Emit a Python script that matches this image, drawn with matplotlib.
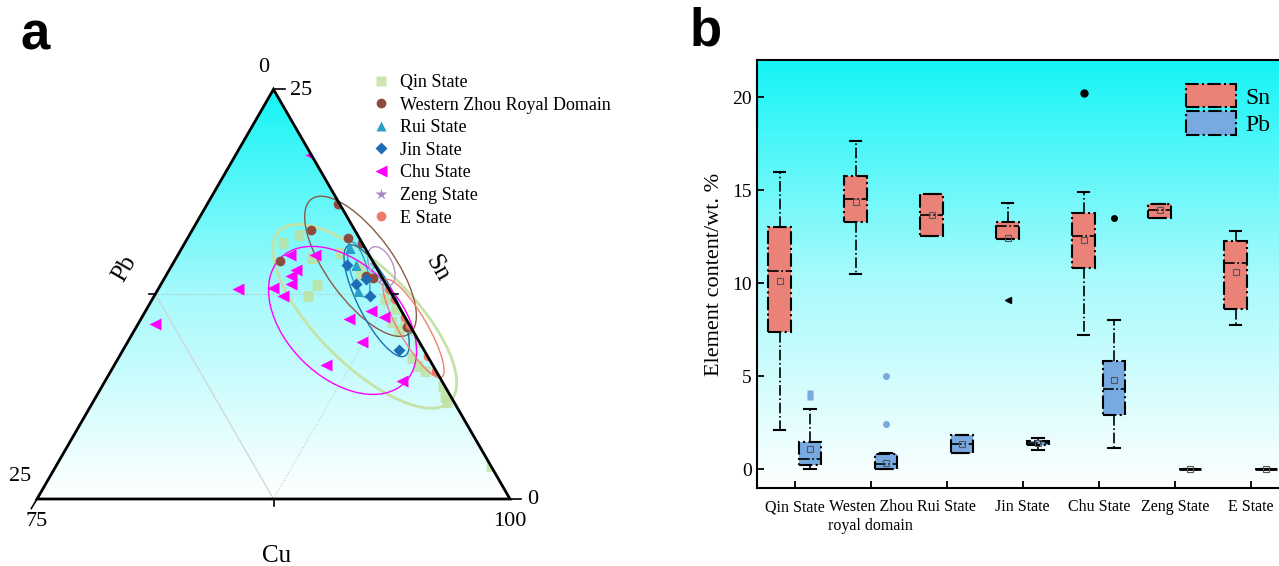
import numpy as np
import matplotlib.pyplot as plt
from matplotlib.patches import Polygon, Ellipse, Patch
from matplotlib.lines import Line2D
from matplotlib.colors import LinearSegmentedColormap

plt.rcParams['font.family'] = ['Liberation Serif', 'DejaVu Serif']

# ---------------- panel a: ternary Cu-Sn-Pb (wt.%) ----------------
qin_sn = [16.1, 15.6, 14.7, 13.05, 12.4, 15.0, 14.2, 13.7, 12.2, 10.8, 11.6,
          10.3, 10.8, 10.3, 8.6, 8.1, 7.8, 9.6, 6.9, 6.25, 5.9, 2.0]
qin_pb = [3.1, 4.2, 3.1, 3.7, 4.5, 1.5, 0.85, 1.1, 0.5, 0.85, 0.2,
          0.7, 0.13, 0.0, 0.9, 0.8, 0.6, 0.0, 0.1, 0.3, 0.36, 0.0]
wz_sn = [18.0, 16.4, 15.9, 15.6, 14.5, 13.6, 13.5, 10.5]
wz_pb = [0.1, 2.3, 0.6, 0.0, 4.9, 0.8, 0.5, 0.2]
rui_sn = [15.3, 14.3, 12.7]
rui_pb = [0.8, 1.0, 1.7]
jin_sn = [14.3, 13.1, 13.4, 12.4, 9.1]
jin_pb = [1.45, 1.6, 0.9, 1.2, 1.3]
chu_sn = [21.0, 14.9, 14.9, 14.0, 13.6, 13.1, 12.8, 12.9, 12.4, 10.7, 11.5,
          11.0, 11.1, 9.6, 8.2, 7.2]
chu_pb = [0.0, 4.2, 2.86, 4.3, 4.8, 5.0, 8.0, 6.1, 5.8, 13.4, 1.6,
          3.0, 1.1, 3.0, 5.6, 2.1]
zeng_sn = [14.3, 13.5]
zeng_pb = [0.0, 0.0]
e_sn = [12.8, 12.2, 11.1, 10.6, 8.7, 7.8]
e_pb = [0.0, 0.0, 0.0, 0.0, 0.0, 0.0]

# group ellipses: centre (Sn, Pb), semi-axes (wt.%), tilt
ell_sn = [11.15, 14.2, 14.0, 12.1, 10.9, 14.2, 10.4]
ell_pb = [2.1, 0.8, 1.0, 1.0, 3.4, -0.3, -0.1]
ell_major = [6.38, 4.4, 1.52, 3.28, 4.65, 1.11, 2.97]
ell_minor = [2.55, 1.76, 0.45, 0.98, 3.0, 0.61, 0.74]
ell_angle = [-45, -54, -74.5, -63, -45, -65, -60]

# ---------------- panel b: box plots ----------------
groups = ['Qin State', 'Westen Zhou\nroyal domain', 'Rui State', 'Jin State',
          'Chu State', 'Zeng State', 'E State']
sn_whislo = [2.09, 10.5, 12.52, 12.38, 7.21, 13.5, 7.76]
sn_q1 = [7.37, 13.27, 12.52, 12.38, 10.82, 13.5, 8.62]
sn_med = [10.64, 14.53, 13.69, 13.1, 12.56, 13.92, 11.09]
sn_q3 = [13.02, 15.78, 14.81, 13.31, 13.77, 14.28, 12.25]
sn_whishi = [16.0, 17.67, 14.81, 14.29, 14.92, 14.28, 12.81]
sn_mean = [10.14, 14.35, 13.69, 12.43, 12.34, 13.92, 10.61]
sn_out = [[], [], [], [9.12], [20.25], [], []]

pb_whislo = [0.0, 0.0, 0.89, 1.02, 1.13, 0.0, 0.0]
pb_q1 = [0.23, 0.0, 0.89, 1.29, 2.92, 0.0, 0.0]
pb_med = [0.57, 0.27, 1.38, 1.4, 4.33, 0.0, 0.0]
pb_q3 = [1.48, 0.8, 1.84, 1.52, 5.81, 0.0, 0.0]
pb_whishi = [3.22, 0.89, 1.84, 1.7, 8.01, 0.0, 0.0]
pb_mean = [1.07, 0.36, 1.38, 1.43, 4.79, 0.0, 0.0]
pb_out = [[3.9, 4.1], [2.42, 5.0], [], [], [13.5], [], []]

cyan_cmap = LinearSegmentedColormap.from_list(
    'cy', [(0, '#ffffff'), (0.5, '#a6fafc'), (1, '#14f4f6')])

fig = plt.figure(figsize=(12.79, 5.66), dpi=100)

# ternary axes: 1 data unit = 1 wt.%, triangle side = 25
S = 473 / 25.0
W, H = 1279.0, 566.0
ax = fig.add_axes([0, 0, 0.5, 1])
ax.set_xlim(-37 / S, (0.5 * W - 37) / S)
ax.set_ylim(-(H - 499) / S, 499 / S)
ax.axis('off')

h3 = np.sqrt(3) / 2


def tern(sn, pb):
    sn = np.asarray(sn, float)
    pb = np.asarray(pb, float)
    return 25 - pb - 0.5 * sn, sn * h3


tri_xy = np.array([[0, 0], [25, 0], [12.5, 25 * h3]])
tri = Polygon(tri_xy, closed=True, facecolor='none', edgecolor='none')
ax.add_patch(tri)
grad = np.linspace(0, 1, 256).reshape(-1, 1)
im = ax.imshow(grad, extent=[0, 25, 0, 25 * h3], origin='lower', cmap=cyan_cmap,
               aspect='auto', zorder=0)
im.set_clip_path(tri)

# grid lines through the midpoints
x1, y1 = tern([12.5, 12.5], [12.5, 0])
ax.plot(x1, y1, ls=':', color='#b8b8b8', lw=0.8, zorder=1)
x2, y2 = tern([12.5, 0], [12.5, 12.5])
ax.plot(x2, y2, ls='-', color='#d0d0d0', lw=0.8, zorder=1)
x3, y3 = tern([0, 12.5], [12.5, 0])
ax.plot(x3, y3, ls=':', color='#c8c8c8', lw=0.8, zorder=1)

series = [
    ('Qin State', qin_sn, qin_pb, 's', '#bfe09c', 6.5, 0.8),
    ('Western Zhou Royal Domain', wz_sn, wz_pb, 'o', '#8c4b3c', 7, 1),
    ('Rui State', rui_sn, rui_pb, '^', '#2aa0c8', 7, 1),
    ('Jin State', jin_sn, jin_pb, 'D', '#1c6db5', 6, 1),
    ('Chu State', chu_sn, chu_pb, '<', '#ff00ff', 8.5, 1),
    ('Zeng State', zeng_sn, zeng_pb, '*', '#a884c2', 9, 1),
    ('E State', e_sn, e_pb, 'o', '#f07868', 7, 1),
]
ell_colors = ['#c6e2a6', '#8b5a48', '#2fa3cf', '#1f6eb5', '#ff00ff', '#b393c9', '#f08070']
ell_lw = [2.0, 1.0, 1.0, 1.0, 1.0, 1.0, 1.0]

handles = []
for k, (name, sn, pb, mk, col, ms, al) in enumerate(series):
    x, y = tern(sn, pb)
    ln, = ax.plot(x, y, ls='none', marker=mk, color=col, ms=ms, mec='none',
                  alpha=al, zorder=2 if k == 0 else 4)
    ln.set_clip_path(tri)
    handles.append(Line2D([], [], ls='none', marker=mk, color=col, ms=ms, mec='none',
                          alpha=al))

for k in range(len(ell_sn)):
    cx, cy = tern(ell_sn[k], ell_pb[k])
    ax.add_patch(Ellipse((cx, cy), 2 * ell_major[k], 2 * ell_minor[k], angle=ell_angle[k],
                         facecolor='none', edgecolor=ell_colors[k], lw=ell_lw[k], zorder=3))

ax.add_patch(Polygon(tri_xy, closed=True, facecolor='none', edgecolor='black',
                     lw=2, zorder=5))

# small ticks
tk = dict(color='black', lw=1.2, zorder=5)
ax.plot([12.5, 13.1], [25 * h3, 25 * h3], **tk)
ax.plot([25, 25.6], [0, 0], **tk)
ax.plot([0, -0.3], [0, -0.5], **tk)
mx, my = tern(12.5, 12.5)
ax.plot([mx, mx - 0.35], [my, my], **tk)
mx, my = tern(0, 12.5)
ax.plot([mx, mx], [my, my - 0.35], **tk)
mx, my = tern(12.5, 0)
ax.plot([mx, mx + 0.35], [my, my], **tk)

fs = 16
ax.text(12.0, 22.8, '0', fontsize=fs, ha='center', va='center')
ax.text(13.35, 21.6, '25', fontsize=fs, ha='left', va='center')
ax.text(-0.9, 1.2, '25', fontsize=fs, ha='center', va='center')
ax.text(0, -1.2, '75', fontsize=fs, ha='center', va='center')
ax.text(25.9, 0, '0', fontsize=fs, ha='left', va='center')
ax.text(25, -1.2, '100', fontsize=fs, ha='center', va='center')
ax.text(4.65, 12.2, 'Pb', fontsize=18, ha='center', va='center', rotation=60)
ax.text(21.15, 12.2, 'Sn', fontsize=18, ha='center', va='center', rotation=-60)
ax.text(12.68, -3.0, 'Cu', fontsize=18, ha='center', va='center')

fig.legend(handles, [s[0] for s in series], loc='upper left',
           bbox_to_anchor=(372 / W, 1 - 74 / H), frameon=False, fontsize=13,
           handletextpad=0.55, labelspacing=0.31, handlelength=1.0, borderpad=0,
           borderaxespad=0)

fig.text(35 / W, 1 - 35 / H, 'a', fontsize=38, fontweight='bold',
         family='Liberation Sans', ha='center', va='center')
fig.text(706 / W, 1 - 31 / H, 'b', fontsize=38, fontweight='bold',
         family='Liberation Sans', ha='center', va='center')

# ---------------- panel b ----------------
bx = fig.add_axes([756.7 / W, (H - 488.3) / H, 532 / W, (488.3 - 60) / H])
bx.set_xlim(-0.5, 6.5)
bx.set_ylim(-1.02, 22.0)
bx.imshow(grad, extent=[0, 1, 0, 1], transform=bx.transAxes, origin='lower',
          cmap=cyan_cmap, aspect='auto', zorder=0)

sn_col = '#eb8278'
pb_col = '#78a9e0'


def stats(lo, q1, med, q3, hi, mean):
    return [dict(whislo=lo[i], q1=q1[i], med=med[i], q3=q3[i], whishi=hi[i],
                 mean=mean[i], fliers=[]) for i in range(len(lo))]


pos = np.arange(len(groups))
for st, off, col in [(stats(sn_whislo, sn_q1, sn_med, sn_q3, sn_whishi, sn_mean), -0.2, sn_col),
                     (stats(pb_whislo, pb_q1, pb_med, pb_q3, pb_whishi, pb_mean), 0.2, pb_col)]:
    res = bx.bxp(st, positions=pos + off, widths=0.3, patch_artist=True, showmeans=True,
                 showfliers=False, manage_ticks=False, capwidths=0.15,
                 boxprops=dict(facecolor=col, edgecolor='black', linestyle='-.', linewidth=1.5),
                 whiskerprops=dict(color='black', linestyle='-.', linewidth=1.2),
                 capprops=dict(color='black', linewidth=1.5),
                 medianprops=dict(color='black', linestyle='-.', linewidth=1.2),
                 meanprops=dict(marker='s', markerfacecolor='none', markeredgecolor='#555555',
                                markersize=4, markeredgewidth=0.8))
    for i, b in enumerate(res['boxes']):
        if st[i]['q1'] == st[i]['q3']:
            b.set_linestyle('-')
            b.set_linewidth(2)
    for art in res['boxes'] + res['whiskers'] + res['caps'] + res['medians'] + res['means']:
        art.set_zorder(3)

sn_out_style = ['o', 'o', 'o', '<', 'o', 'o', 'o']
pb_out_style = ['s', 'o', 'o', 'o', 'o', 'o', 'o']
pb_out_col = [pb_col, pb_col, pb_col, pb_col, 'black', pb_col, pb_col]
for i in range(len(groups)):
    if sn_out[i]:
        bx.plot([i - 0.2] * len(sn_out[i]), sn_out[i], ls='none', marker=sn_out_style[i],
                color='black', ms=5, zorder=4)
    if pb_out[i]:
        bx.plot([i + 0.2] * len(pb_out[i]), pb_out[i], ls='none', marker=pb_out_style[i],
                color=pb_out_col[i], ms=5, mec='none', zorder=4)

bx.set_xticks(pos)
bx.set_xticklabels(groups, fontsize=11.5)
bx.set_yticks([0, 5, 10, 15, 20])
bx.tick_params(axis='y', labelsize=14, direction='in', length=5, width=1.3)
bx.tick_params(axis='x', direction='in', length=5, width=1.3, pad=8)
for sp in bx.spines.values():
    sp.set_linewidth(1.5)
bx.set_ylabel('Element content/wt. %', fontsize=16, labelpad=6)

lh = [Patch(facecolor=sn_col, edgecolor='black', linestyle='-.', linewidth=1.5),
      Patch(facecolor=pb_col, edgecolor='black', linestyle='-.', linewidth=1.5)]
fig.legend(lh, ['Sn', 'Pb'], loc='upper left', bbox_to_anchor=(1186 / W, 1 - 84 / H),
           frameon=False, fontsize=17, handlelength=2.1, handleheight=1.15,
           labelspacing=0.1, handletextpad=0.4, borderpad=0, borderaxespad=0)

fig.savefig('out.png', dpi=100)
